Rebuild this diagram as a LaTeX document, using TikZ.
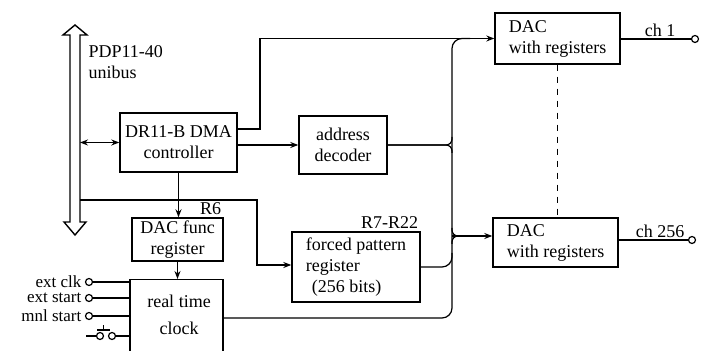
\documentclass[tikz,border=0pt]{standalone}
\usepackage{fontspec}
\setmainfont{Liberation Serif}
\usepackage{tikz}
\usetikzlibrary{arrows.meta}
\usetikzlibrary{positioning}
\usetikzlibrary{calc}
\tikzstyle{block} = [rectangle, draw=black, line width=0.7pt, inner sep=1pt, align=center, font=\fontsize{9}{10.5}\selectfont]
\tikzstyle{lbl} = [inner sep=1pt, font=\fontsize{9}{10.5}\selectfont]
\tikzstyle{inlbl} = [inner sep=0pt, font=\fontsize{8.5}{9}\selectfont]
\tikzstyle{port} = [circle, draw=black, fill=white, inner sep=0pt, minimum size=3.5pt]
\tikzstyle{arr} = [-{Stealth[length=4pt,width=3pt]}]
\tikzstyle{dblarr} = [{Stealth[length=4pt,width=3pt]}-{Stealth[length=4pt,width=3pt]}]

\begin{document}
\begin{tikzpicture}[x=0.5pt, y=-0.5pt, line width=0.6pt]
  \useasboundingbox (0,0) rectangle (701,351);
  % unibus
  \draw[line width=0.7pt] (75,25) -- (87,35) -- (80,35) -- (80,222) -- (86,222) -- (75,235)
    -- (64,222) -- (70,222) -- (70,35) -- (63,35) -- cycle;
  \coordinate (bus) at (80,0);
  \node[lbl, anchor=north west, align=left] (bustxt) at (86,43) {PDP11-40\\unibus};

  \node[block, minimum width=58.5pt, minimum height=29.5pt] (dma) at (178.5,142.5) {DR11-B DMA\\controller};
  \node[block, minimum width=44pt, minimum height=29pt] (addr) at (343,145) {address\\decoder};
  \node[block, minimum width=45.5pt, minimum height=21.5pt] (func) at (177.5,239.5) {DAC func\\register};
  \node[block, minimum width=46.5pt, minimum height=46pt, anchor=north] (clk) at (176.5,279) {};
  \node[lbl, align=center] (clktxt) at (179,315) {real time\\[3pt]clock};
  \node[block, align=left, minimum width=64pt, minimum height=35pt] (fpr) at (356,267) {forced pattern\\register\\\hspace{3pt}(256 bits)};
  \node[block, align=left, minimum width=62.5pt, minimum height=25.5pt] (dac1) at (557.5,38.5) {DAC\\with registers};
  \node[block, align=left, minimum width=62.5pt, minimum height=24.5pt] (dacn) at (555.5,242.5) {DAC\\with registers};

  \node[lbl, anchor=south east] (r6) at (func.north east) {R6};
  \node[lbl, anchor=south east] (r7) at (fpr.north east) {R7-R22};

  % bus side
  \draw[dblarr] (bus |- dma.west) -- (dma.west);
  \draw[arr] (bus |- 0,200) -| (257,265) -- (fpr.west |- 0,265);
  \draw[arr] (dma.east |- 0,129) -| (260,38.5) -- (dac1.west);
  \draw[arr] (dma.east |- addr.west) -- (addr.west);
  \draw[arr] (dma.south) -- (dma.south |- func.north);
  \draw[arr] (func.south) -- (func.south |- clk.north);

  % data lines to the DACs
  \coordinate (jx) at (452,0);
  \coordinate (split) at (452,236);
  \draw[rounded corners=5pt] (clk.east |- 0,318) -- (jx |- 0,318) -- (jx |- 0,38.5) -- (470,38.5);
  \draw[rounded corners=3pt] (addr.east) -- (jx |- addr.east) -- ++(0,-8);
  \draw[rounded corners=3pt] (addr.east) -- (jx |- addr.east) -- ++(0,8);
  \draw[rounded corners=5pt] (fpr.east) -- (jx |- fpr.east) -- ++(0,-14);
  \draw[rounded corners=3pt] ($(split)+(0,-8)$) -- (split) -- ++(12,0);
  \draw[rounded corners=3pt] ($(split)+(0,8)$) -- (split) -- ++(12,0);
  \draw[arr] (split) -- (dacn.west |- split);
  \draw[dashed] (dac1.south) -- (dac1.south |- dacn.north);

  % outputs
  \node[port] (ch1) at (695,39) {};
  \node[port] (chn) at (692,240) {};
  \draw (dac1.east |- ch1) -- (ch1);
  \draw (dacn.east |- chn) -- (chn);
  \node[lbl, anchor=south] (ch1txt) at (660,39) {ch 1};
  \node[lbl, anchor=south] (chntxt) at (660,240) {ch 256};

  % clock inputs
  \foreach \y/\txt/\nm in {282/ext clk/eclk, 298/ext start/estart, 316/mnl start/mstart}{
    \node[port] (\nm) at (89,\y) {};
    \node[inlbl, left=1.5pt of \nm] (\nm txt) {\txt};
    \draw (\nm) -- (clk.west |- \nm);
  }
  \node[port] (sw1) at (100,336) {};
  \node[port] (sw2) at (112,336) {};
  \draw (sw1.west) -- ++(-10,0);
  \draw (sw2) -- (clk.west |- sw2);
  \draw (97,330) -- (110,330);
  \draw (103.5,330) -- (103.5,325);
\end{tikzpicture}
\end{document}
